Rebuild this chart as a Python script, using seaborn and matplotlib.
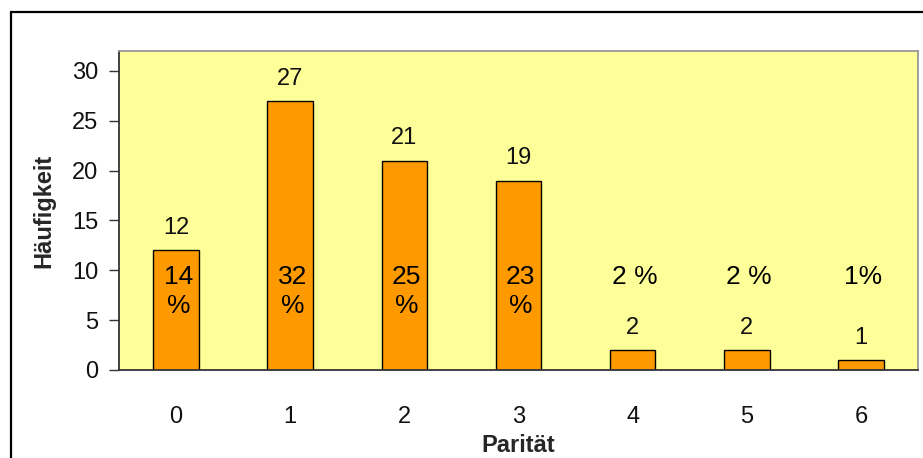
import matplotlib
matplotlib.use("Agg")
import matplotlib.pyplot as plt
from matplotlib.patches import Rectangle
import seaborn as sns
import pandas as pd

# Parity distribution
paritaet = ["0", "1", "2", "3", "4", "5", "6"]
haeufigkeit = [12, 27, 21, 19, 2, 2, 1]
prozent_labels = ["14\n%", "32\n%", "25\n%", "23\n%", "2 %", "2 %", "1%"]
y_ticks = [0, 5, 10, 15, 20, 25, 30]

sns.set_theme(style="white")
plt.rcParams["font.family"] = ["Liberation Sans", "DejaVu Sans"]

df = pd.DataFrame({"Parität": paritaet, "Häufigkeit": haeufigkeit})

W, H = 923, 458
fig = plt.figure(figsize=(W / 100, H / 100), dpi=100)
fig.patch.set_facecolor("white")

# outer frame around the chart
fig.add_artist(Rectangle((11 / W, -0.2), 1.2, 1 - 12 / H + 0.2,
                         transform=fig.transFigure, fill=False,
                         edgecolor="black", linewidth=1.6))

ax = fig.add_axes([119 / W, 1 - 370 / H, (918 - 119) / W, (370 - 51) / H])
ax.set_facecolor("#FFFF99")

sns.barplot(data=df, x="Parität", y="Häufigkeit", ax=ax, color="#FF9900",
            saturation=1, edgecolor="black", linewidth=1.0, width=0.4)

ax.set_xlim(-0.5, 6.5)
ax.set_ylim(0, 32)
ax.set_yticks(y_ticks)

for sp in ["left", "bottom"]:
    ax.spines[sp].set_color("#333333")
    ax.spines[sp].set_linewidth(1.3)
for sp in ["top", "right"]:
    ax.spines[sp].set_color("#999999")
    ax.spines[sp].set_linewidth(1.3)
    ax.spines[sp].set_visible(True)

ax.tick_params(axis="y", direction="out", length=7, width=1, color="#333333",
               left=True, pad=8, labelsize=17, labelcolor="#111111")
ax.tick_params(axis="x", length=0, pad=26, labelsize=17, labelcolor="#111111")

ax.set_xlabel("Parität", fontsize=17, fontweight="bold", labelpad=4)
ax.set_ylabel("Häufigkeit", fontsize=17, fontweight="bold", labelpad=12)

# counts above the bars
for i, v in enumerate(haeufigkeit):
    ax.annotate(str(v), (i, v), xytext=(0, 16), textcoords="offset points",
                ha="center", va="center", fontsize=17, color="#111111")

# percentages
for i, lab in enumerate(prozent_labels):
    ax.text(i + 0.02, 10.55, lab, ha="center", va="top", fontsize=19,
            color="black", linespacing=1.25)

fig.savefig("out.png", dpi=100)
